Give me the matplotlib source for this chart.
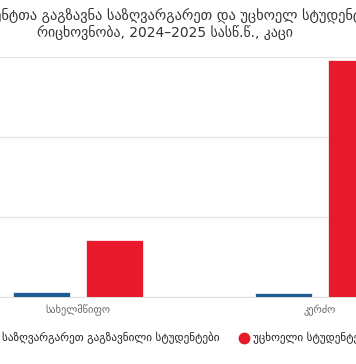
import matplotlib
matplotlib.use("Agg")
import matplotlib.pyplot as plt
from matplotlib.lines import Line2D

# მონაცემები (წაკითხული სურათიდან, დაახლოებით)
categories = ["სახელმწიფო", "კერძო"]
series_names = ["საზღვარგარეთ გაგზავნილი სტუდენტები", "უცხოელი სტუდენტები"]
sent_abroad = [600, 450]
foreign_students = [7100, 29600]

title_line1 = "სტუდენტთა გაგზავნა საზღვარგარეთ და უცხოელ სტუდენტთა"
title_line2 = "რიცხოვნობა, 2024–2025 სასწ.წ., კაცი"

blue = "#1f5b94"
red = "#e8192c"

plt.rcParams['font.family'] = ['DejaVu Sans']

W, H = 356, 364
fig = plt.figure(figsize=(W / 100, H / 100), dpi=100)

# plot area is wider than the picture (chart was cropped)
left_px, right_px = -43, 441
top_px, base_px = 57, 297
ax = fig.add_axes([left_px / W, 1 - base_px / H,
                   (right_px - left_px) / W, (base_px - top_px) / H])

x = range(len(categories))
off = 0.152
bw = 0.236
ax.bar([i - off for i in x], sent_abroad, width=bw, color=blue,
       edgecolor="white", linewidth=0.5, zorder=3)
ax.bar([i + off for i in x], foreign_students, width=bw, color=red,
       edgecolor="white", linewidth=0.5, zorder=3)

ax.set_xlim(-0.5, 1.5)
ax.set_ylim(0, 30000)
ax.set_yticks([0, 10000, 20000, 30000])
ax.yaxis.grid(True, color="#e6e6e6", linewidth=1, zorder=0)
ax.tick_params(left=False, labelleft=False, bottom=False, labelbottom=False)
for s in ["top", "right", "left"]:
    ax.spines[s].set_visible(False)
ax.spines["bottom"].set_color("#e0e0e0")

# category labels
for i, c in enumerate(categories):
    xp = left_px + (i + 0.5) * (right_px - left_px) / 2
    fig.text(xp / W, 1 - 310 / H, c, ha="center", va="center",
             fontsize=7.5, color="#666666")

# title
fig.text(170 / W, 1 - 15 / H, title_line1, ha="center", va="center",
         fontsize=10.4, color="#333333")
fig.text(165 / W, 1 - 33 / H, title_line2, ha="center", va="center",
         fontsize=10, color="#333333")

# legend
leg_y = 1 - 338 / H
fig.add_artist(Line2D([-9 / W], [leg_y], marker="o", color=blue,
                      markersize=7.5, transform=fig.transFigure))
fig.text(2 / W, leg_y, series_names[0], ha="left", va="center",
         fontsize=8.0, color="#222222")
fig.add_artist(Line2D([244 / W], [leg_y], marker="o", color=red,
                      markersize=7.5, transform=fig.transFigure))
fig.text(253 / W, leg_y, series_names[1], ha="left", va="center",
         fontsize=8.0, color="#222222")

fig.savefig("out.png", dpi=100)
